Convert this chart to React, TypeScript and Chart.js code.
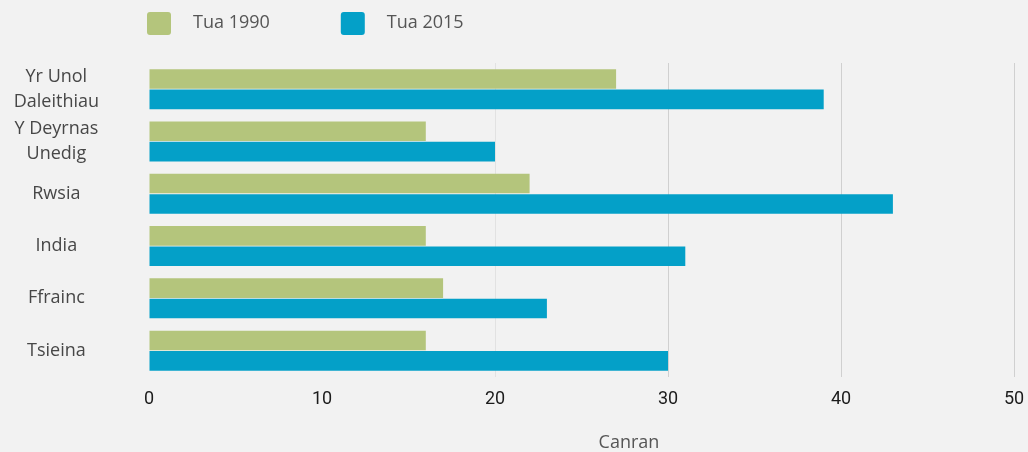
import React, { useEffect, useRef } from "react";
import { Chart, registerables } from "chart.js";

Chart.register(...registerables);

const categories: (string | string[])[] = [
  ["Yr Unol", "Daleithiau"],
  ["Y Deyrnas", "Unedig"],
  "Rwsia",
  "India",
  "Ffrainc",
  "Tsieina",
];
const seriesLabels = ["Tua 1990", "Tua 2015"];
const values1990 = [27, 16, 22, 16, 17, 16];
const values2015 = [39, 20, 43, 31, 23, 30];
const seriesColors = ["#b4c57c", "#04a0c8"];
const axisTitle = "Canran";
const xMin = 0;
const xMax = 50;
const xStep = 10;

const BG = "#f2f2f2";

const bgPlugin = {
  id: "bgFill",
  beforeDraw(chart: any) {
    const { ctx, width, height } = chart;
    ctx.save();
    ctx.fillStyle = BG;
    ctx.fillRect(0, 0, width, height);
    ctx.restore();
  },
};

const legendPlugin = {
  id: "manualLegend",
  afterDraw(chart: any) {
    const { ctx } = chart;
    ctx.save();
    ctx.font = "18px 'Open Sans'";
    ctx.textBaseline = "middle";
    ctx.textAlign = "left";
    let x = 147;
    const yMid = 23;
    chart.data.datasets.forEach((ds: any) => {
      ctx.fillStyle = ds.backgroundColor;
      ctx.beginPath();
      if (ctx.roundRect) ctx.roundRect(x, 12, 24, 23, 3);
      else ctx.rect(x, 12, 24, 23);
      ctx.fill();
      ctx.fillStyle = "#555555";
      const tx = x + 46;
      ctx.fillText(ds.label, tx, yMid);
      x = tx + ctx.measureText(ds.label).width + 71;
    });
    ctx.restore();
  },
};

const axisTitlePlugin = {
  id: "axisTitleOffset",
  afterDraw(chart: any) {
    const { ctx } = chart;
    ctx.save();
    ctx.font = "18px 'Open Sans'";
    ctx.fillStyle = "#555555";
    ctx.textAlign = "center";
    ctx.textBaseline = "middle";
    ctx.fillText(axisTitle, 629, 443);
    ctx.restore();
  },
};

export default function App() {
  const ref = useRef<HTMLCanvasElement | null>(null);

  useEffect(() => {
    document.body.style.margin = "0";
    document.body.style.background = BG;
    if (!ref.current) return;
    const chart = new Chart(ref.current, {
      type: "bar",
      data: {
        labels: categories as any,
        datasets: [
          {
            label: seriesLabels[0],
            data: values1990,
            backgroundColor: seriesColors[0],
            categoryPercentage: 0.78,
            barPercentage: 0.96,
          },
          {
            label: seriesLabels[1],
            data: values2015,
            backgroundColor: seriesColors[1],
            categoryPercentage: 0.78,
            barPercentage: 0.96,
          },
        ],
      },
      options: {
        indexAxis: "y",
        animation: false,
        responsive: false,
        layout: { padding: { top: 63, right: 14, bottom: 24, left: 0 } },
        plugins: {
          legend: { display: false },
          tooltip: { enabled: false },
        },
        scales: {
          x: {
            min: xMin,
            max: xMax,
            border: { display: false },
            grid: {
              drawTicks: false,
              color: (c: any) => {
                const v = c.tick ? c.tick.value : 0;
                if (v <= 10) return "rgba(0,0,0,0)";
                if (v === 20) return "#e2e2e2";
                return "#d0d0d0";
              },
            },
            ticks: {
              stepSize: xStep,
              padding: 12,
              color: "#1c1c1c",
              font: { family: "Roboto", size: 18 },
            },
            afterFit: (scale: any) => {
              scale.paddingLeft = 0;
              scale.paddingRight = 0;
            },
          },
          y: {
            border: { display: false },
            grid: { display: false, drawTicks: false },
            ticks: {
              autoSkip: false,
              crossAlign: "center",
              padding: 50,
              color: "#474747",
              font: { family: "'Open Sans'", size: 18, lineHeight: 1.4 },
            },
            afterFit: (scale: any) => {
              scale.width = 149;
            },
          },
        },
      },
      plugins: [bgPlugin, legendPlugin, axisTitlePlugin],
    } as any);
    return () => chart.destroy();
  }, []);

  return (
    <div style={{ width: 1028, height: 452, background: BG }}>
      <canvas ref={ref} width={1028} height={452} />
    </div>
  );
}
